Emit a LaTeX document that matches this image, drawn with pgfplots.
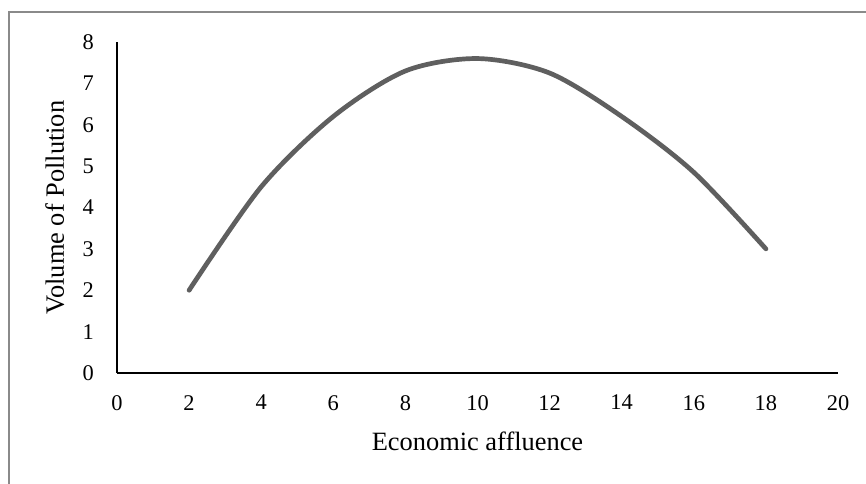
\documentclass[border=0pt]{standalone}
\usepackage{fontspec}
\setmainfont{Liberation Serif}
\usepackage{pgfplots}
\pgfplotsset{compat=1.18}
\definecolor{curvegray}{HTML}{5F5F5F}
\definecolor{framegray}{HTML}{8A8A8A}
\newcommand\tf{\fontsize{22.5}{27}\selectfont}
\begin{document}
\begin{tikzpicture}
\path[use as bounding box] (0bp,0bp) rectangle (866bp,484bp);
\fill[white] (0bp,0bp) rectangle (866bp,484bp);
\draw[framegray, line width=2bp] (8.5bp,-5bp) -- (8.5bp,471.5bp) -- (880bp,471.5bp);
\begin{axis}[
  at={(117bp,111bp)}, anchor=origin,
  scale only axis,
  width=721bp, height=331bp,
  xmin=0, xmax=20, ymin=0, ymax=8,
  xtick={0,2,4,6,8,10,12,14,16,18,20},
  xticklabels={\tf 0,\tf 2,\tf 4,\tf 6,\tf 8,\tf 10,\tf 12,\tf 14,\tf 16,\tf 18,\tf 20},
  ytick={0,1,2,3,4,5,6,7,8},
  yticklabels={\tf 0,\tf 1,\tf 2,\tf 3,\tf 4,\tf 5,\tf 6,\tf 7,\tf 8},
  axis lines=left,
  axis line style={-, black, line width=1.3bp},
  major tick length=0pt,
  tick style={draw=none},
  xticklabel style={font=\tf, inner sep=0pt},
  yticklabel style={font=\tf, inner sep=0pt},
  xticklabel shift=22bp,
  yticklabel shift=23bp,
  label style={font=\fontsize{26.5}{32}\selectfont, inner sep=0pt},
  xlabel={Economic affluence},
  ylabel={Volume of Pollution},
  xlabel style={at={(axis description cs:0.5,0)}, anchor=north, yshift=-59bp},
  ylabel style={at={(axis description cs:0,0.5)}, anchor=north, yshift=72bp},
  clip=false,
]
\addplot[curvegray, line width=4.7bp, line cap=round, smooth, tension=0.5] coordinates {
  (2,2) (4,4.5) (6,6.2) (8,7.3) (10,7.6) (12,7.25) (14,6.2) (16,4.85) (18,3)
};
\end{axis}
\end{tikzpicture}
\end{document}
